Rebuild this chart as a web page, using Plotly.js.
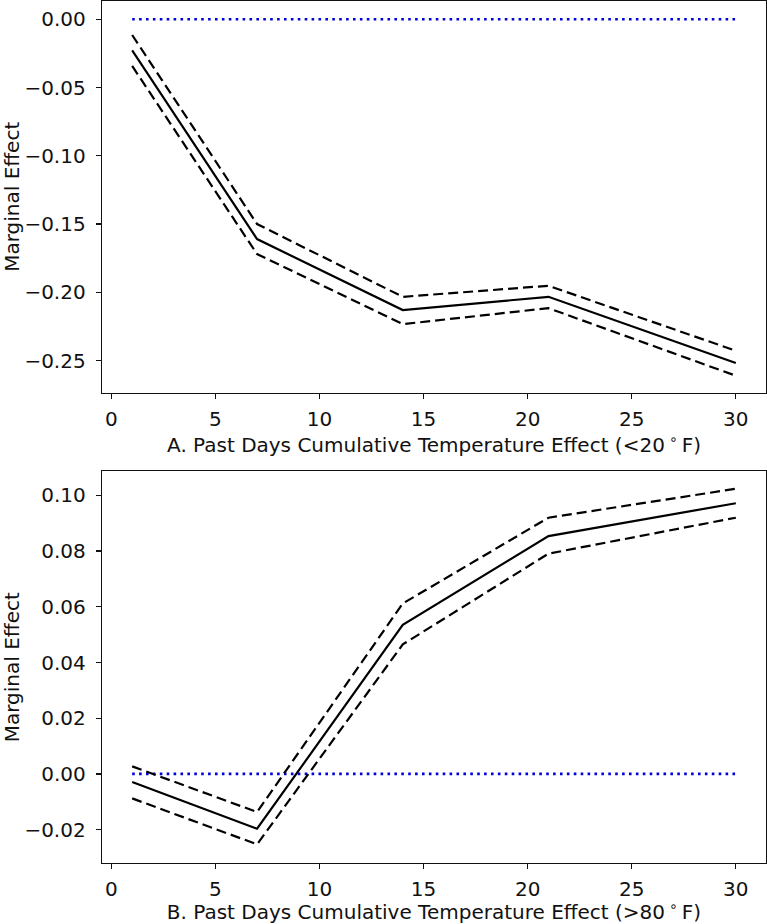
<!DOCTYPE html>
<html>
<head>
<meta charset="utf-8">
<script src="https://cdn.plot.ly/plotly-3.0.1.min.js"></script>
<style>html,body{margin:0;padding:0;background:#fff;}#chart{width:767px;height:924px;}</style>
</head>
<body>
<div id="chart"></div>
<script>
// Data
const days = [1, 7, 14, 21, 30];
// Panel A (<20 F)
const coldEffect = [-0.0227, -0.161, -0.213, -0.2033, -0.2518];
const coldUpper  = [-0.0115, -0.150, -0.2033, -0.1952, -0.2428];
const coldLower  = [-0.0342, -0.172, -0.2233, -0.2116, -0.2611];
// Panel B (>80 F)
const hotEffect = [-0.0029, -0.0197, 0.0535, 0.0854, 0.0972];
const hotUpper  = [0.0027, -0.0137, 0.0612, 0.0920, 0.1024];
const hotLower  = [-0.0088, -0.0253, 0.0465, 0.0791, 0.0920];
const zeroX = [1, 30];
const zeroY = [0, 0];
const titleA = 'A. Past Days Cumulative Temperature Effect (&lt;20\u2009<sup>∘</sup>\u2009F)';
const titleB = 'B. Past Days Cumulative Temperature Effect (&gt;80\u2009<sup>∘</sup>\u2009F)';
const yTitle = 'Marginal Effect';
const topTicks = [0, -0.05, -0.10, -0.15, -0.20, -0.25];
const topTickText = ['0.00', '−0.05', '−0.10', '−0.15', '−0.20', '−0.25'];
const botTicks = [-0.02, 0, 0.02, 0.04, 0.06, 0.08, 0.10];
const botTickText = ['−0.02', '0.00', '0.02', '0.04', '0.06', '0.08', '0.10'];
const xTicks = [0, 5, 10, 15, 20, 25, 30];

const solid = {color: '#000', width: 2.2};
const dashed = {color: '#000', width: 2.2, dash: '10px,5px'};
const dotted = {color: '#0000dd', width: 2.6, dash: '2.6px,4.3px'};

function mk(x, y, line, xa, ya) {
  return {x: x, y: y, mode: 'lines', line: line, xaxis: xa, yaxis: ya, hoverinfo: 'skip', showlegend: false};
}

const data = [
  mk(zeroX, zeroY, dotted, 'x', 'y'),
  mk(days, coldUpper, dashed, 'x', 'y'),
  mk(days, coldLower, dashed, 'x', 'y'),
  mk(days, coldEffect, solid, 'x', 'y'),
  mk(zeroX, zeroY, dotted, 'x2', 'y2'),
  mk(days, hotUpper, dashed, 'x2', 'y2'),
  mk(days, hotLower, dashed, 'x2', 'y2'),
  mk(days, hotEffect, solid, 'x2', 'y2')
];

const font = {family: 'DejaVu Sans, sans-serif', size: 20, color: '#111'};
const axBase = {
  showgrid: false, zeroline: false, showline: true, mirror: true,
  linecolor: '#111', linewidth: 1.3, ticks: 'outside', ticklen: 5, tickwidth: 1.3,
  tickcolor: '#111', tickfont: font
};

const layout = {
  width: 767, height: 924,
  margin: {l: 102, r: 1, t: 1, b: 61, pad: 0},
  paper_bgcolor: '#fff', plot_bgcolor: '#fff',
  font: font,
  xaxis: Object.assign({}, axBase, {
    domain: [0, 1], anchor: 'y', range: [-0.45, 31.45], tickvals: xTicks,
    ticklabelstandoff: 3,
    title: {text: titleA, font: font, standoff: 5}
  }),
  yaxis: Object.assign({}, axBase, {
    domain: [0.5458, 1], anchor: 'x', range: [-0.2734, 0.0134],
    tickvals: topTicks, ticktext: topTickText, ticklabelstandoff: 6,
    title: {text: yTitle, font: font, standoff: 4}
  }),
  xaxis2: Object.assign({}, axBase, {
    domain: [0, 1], anchor: 'y2', range: [-0.45, 31.45], tickvals: xTicks,
    ticklabelstandoff: 3,
    title: {text: titleB, font: font, standoff: 3}
  }),
  yaxis2: Object.assign({}, axBase, {
    domain: [0, 0.4542], anchor: 'x2', range: [-0.0320, 0.1086],
    tickvals: botTicks, ticktext: botTickText, ticklabelstandoff: 6,
    title: {text: yTitle, font: font, standoff: 4}
  })
};

Plotly.newPlot('chart', data, layout, {displayModeBar: false, staticPlot: true});
</script>
</body>
</html>
